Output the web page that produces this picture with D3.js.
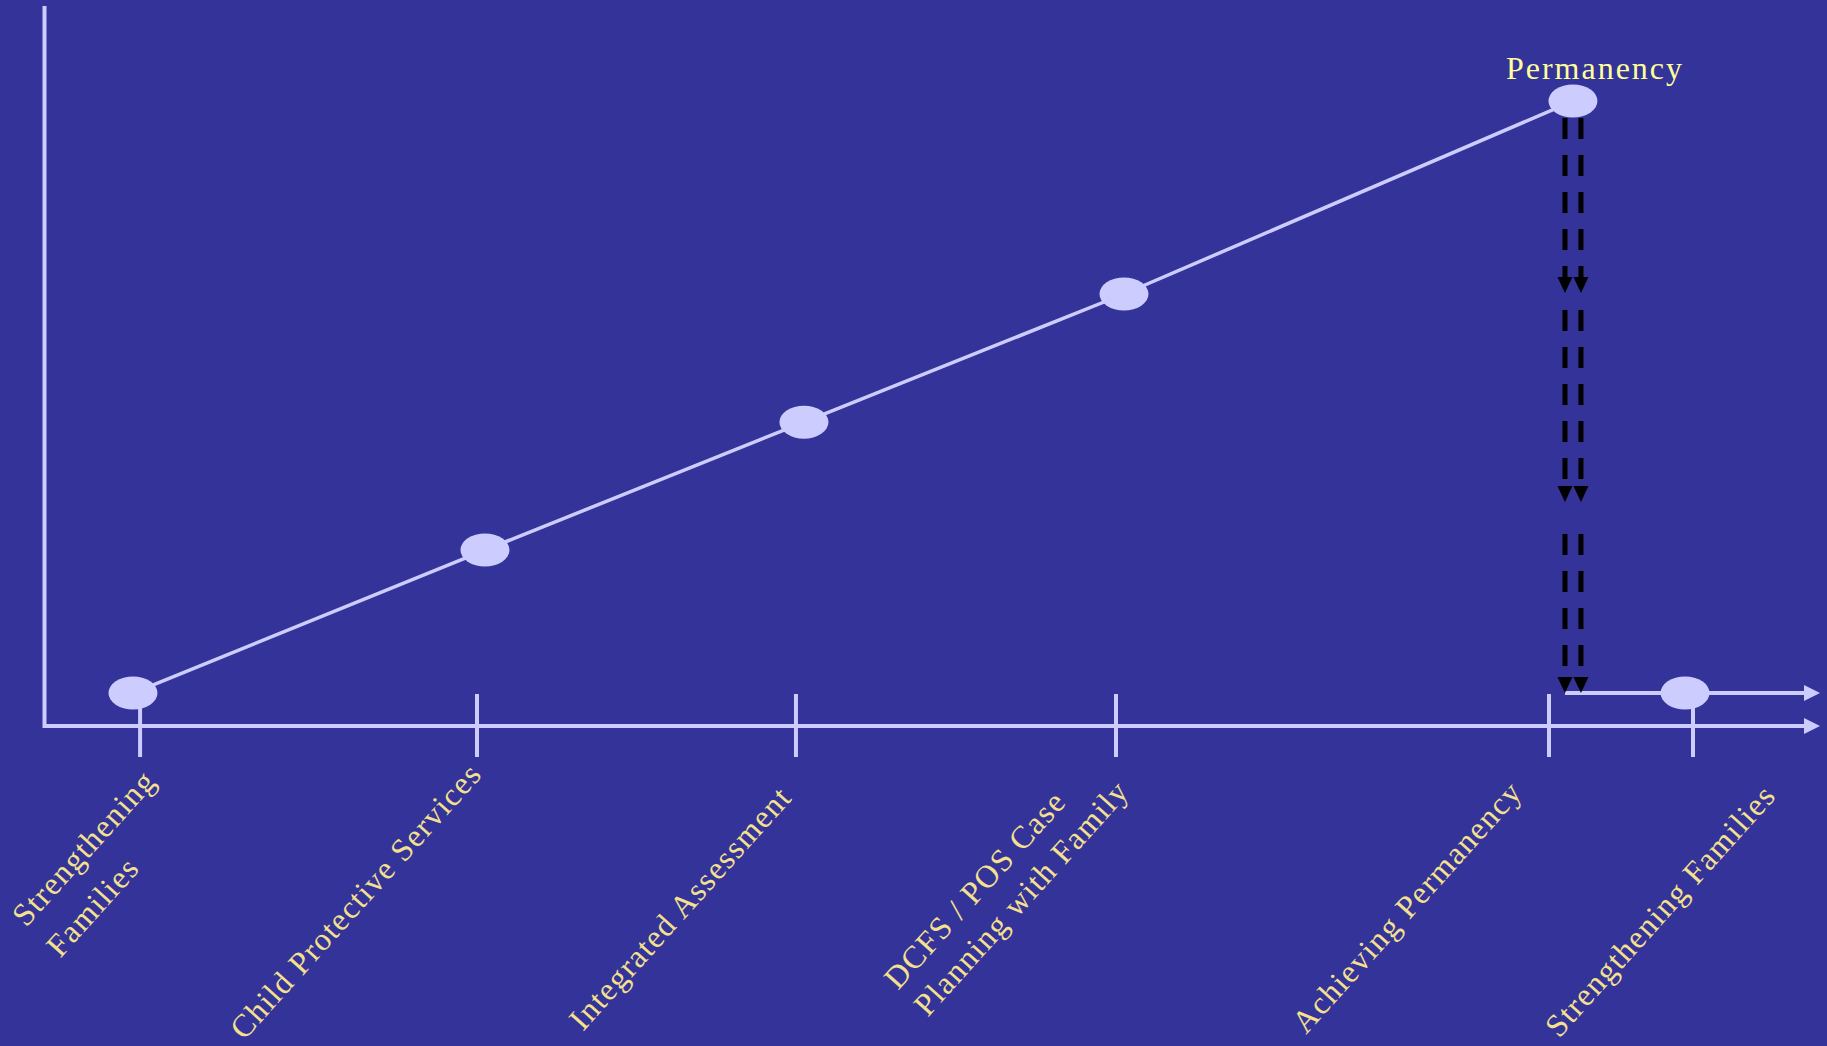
<!DOCTYPE html>
<html>
<head>
<meta charset="utf-8">
<script src="https://cdn.jsdelivr.net/npm/d3@7"></script>
<style>
  html, body { margin: 0; padding: 0; background: #333399; }
  svg { display: block; }
</style>
</head>
<body>
<svg id="chart" width="1827" height="1046"></svg>
<script>
// ---- data ----
const stageLabels = [
  ["Strengthening", "Families"],
  ["Child Protective Services"],
  ["Integrated Assessment"],
  ["DCFS / POS Case", "Planning with Family"],
  ["Achieving Permanency"],
  ["Strengthening Families"]
];
const tickPositions = [5.41, 24.38, 42.34, 60.36, 84.74, 92.85];
const pathX = [5.01, 24.83, 42.79, 60.81, 86.09];
const pathY = [4.58, 24.44, 42.2, 60.0, 86.8];
const returnPoint = { x: 92.4, y: 4.58 };
const returnLineStartX = 85.64;
const dropColumnsX = [85.64, 86.54];
const dropSegments = [[84.44, 60.14], [57.78, 31.11], [26.67, 4.58]];
const peakLabel = "Permanency";

// ---- layout (label anchors relative to tick / axis, line heights) ----
const labelOffsets = [[-114, 202], [-233, 315], [-213, 306], [-218, 265], [-243, 309], [-134, 313]];
const labelLineHeights = [46, 46, 46, 40, 46, 46];

const W = 1827, H = 1046;
const svg = d3.select("#chart");
svg.append("rect").attr("width", W).attr("height", H).attr("fill", "#333399");

const x = d3.scaleLinear().domain([0, 100]).range([44, 1820]);
const y = d3.scaleLinear().domain([0, 100]).range([726, 6]);

const pale = "#ccccff";
const textCol = "#f4e08e";

// y axis
svg.append("line")
  .attr("x1", x(0) + 0.5).attr("x2", x(0) + 0.5)
  .attr("y1", y(100)).attr("y2", y(0) + 2)
  .attr("stroke", pale).attr("stroke-width", 4);

// arrow helper for horizontal arrows
function hArrow(x1, x2, yy) {
  svg.append("line")
    .attr("x1", x1).attr("x2", x2 - 14)
    .attr("y1", yy).attr("y2", yy)
    .attr("stroke", pale).attr("stroke-width", 4);
  svg.append("path")
    .attr("d", `M${x2},${yy} L${x2 - 16},${yy - 8} L${x2 - 16},${yy + 8} Z`)
    .attr("fill", pale);
}

// x axis with arrow
hArrow(x(0), x(100), y(0));

// ticks
svg.selectAll("line.tick").data(tickPositions).join("line")
  .attr("class", "tick")
  .attr("x1", d => x(d)).attr("x2", d => x(d))
  .attr("y1", y(0) - 32).attr("y2", y(0) + 31)
  .attr("stroke", pale).attr("stroke-width", 4);

// return arrow line
hArrow(x(returnLineStartX), x(100), y(returnPoint.y));

// progression line
const pts = pathX.map((v, i) => [x(v), y(pathY[i])]);
svg.append("path")
  .attr("d", d3.line()(pts))
  .attr("fill", "none").attr("stroke", pale).attr("stroke-width", 3.5);

// dashed drop arrows
dropColumnsX.forEach(cx => {
  dropSegments.forEach(([a, b]) => {
    const X = x(cx), y1 = y(a), y2 = y(b);
    svg.append("line")
      .attr("x1", X).attr("x2", X)
      .attr("y1", y1).attr("y2", y2 - 14)
      .attr("stroke", "#000").attr("stroke-width", 5)
      .attr("stroke-dasharray", "21,16");
    svg.append("path")
      .attr("d", `M${X},${y2} L${X - 7.5},${y2 - 16} L${X + 7.5},${y2 - 16} Z`)
      .attr("fill", "#000");
  });
});

// points
const allPts = pts.concat([[x(returnPoint.x), y(returnPoint.y)]]);
svg.selectAll("ellipse.pt").data(allPts).join("ellipse")
  .attr("class", "pt")
  .attr("cx", d => d[0]).attr("cy", d => d[1])
  .attr("rx", 24.5).attr("ry", 16.5)
  .attr("fill", pale);

// peak label
svg.append("text")
  .attr("x", x(pathX[4]) + 22).attr("y", 79)
  .attr("text-anchor", "middle")
  .attr("font-family", "'Liberation Serif', serif")
  .attr("font-size", 32).attr("letter-spacing", 2)
  .attr("fill", "#ffff99")
  .text(peakLabel);

// tick labels
stageLabels.forEach((lines, i) => {
  const g = svg.append("g")
    .attr("transform", `translate(${x(tickPositions[i]) + labelOffsets[i][0]},${y(0) + labelOffsets[i][1]}) rotate(-48)`);
  const t = g.append("text")
    .attr("font-family", "'Liberation Serif', serif")
    .attr("font-size", 32).attr("letter-spacing", 1.3)
    .attr("fill", textCol);
  lines.forEach((ln, j) => {
    t.append("tspan").attr("x", 0).attr("dy", j === 0 ? 0 : labelLineHeights[i]).text(ln);
  });
});
</script>
</body>
</html>
